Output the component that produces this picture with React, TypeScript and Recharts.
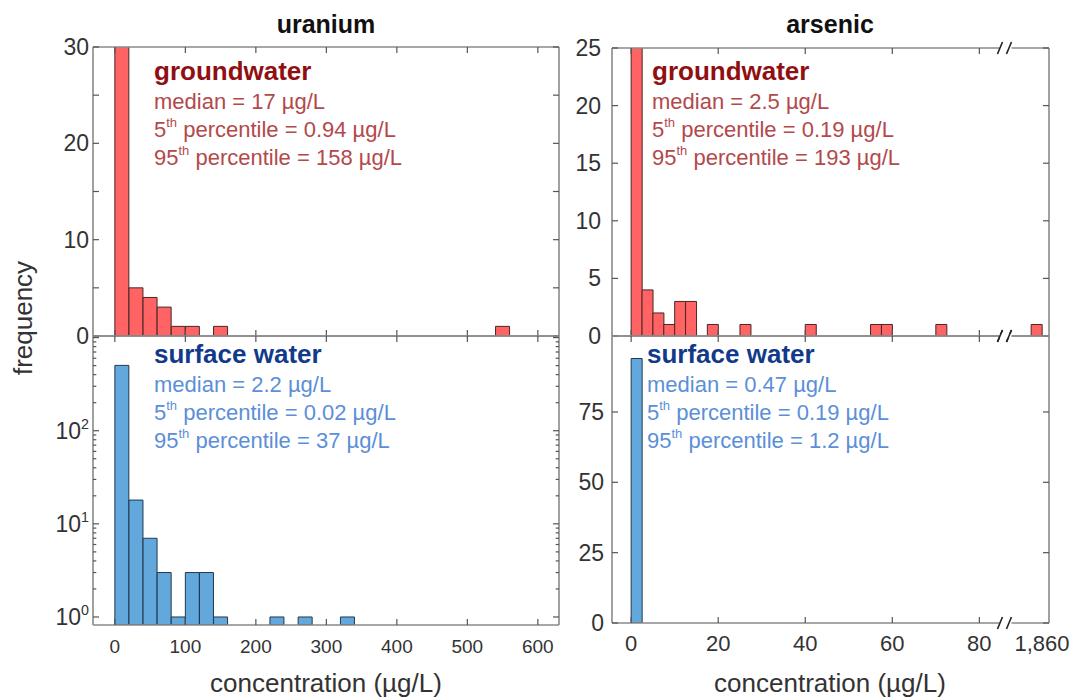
import React from 'react';
import { BarChart, Bar, XAxis, YAxis, ReferenceDot } from 'recharts';

// histogram bins (lower edge, µg/L) and counts
const uraniumBins = [0, 20, 40, 60, 80, 100, 120, 140, 220, 260, 320, 540];
const uraniumGround = [36, 5, 4, 3, 1, 1, 0, 1, 0, 0, 0, 1];
const uraniumSurface = [503, 18, 7, 3, 1, 3, 3, 1, 1, 1, 1, 0];
const uraniumBinWidth = 20;

const arsenicBins = [0, 2.5, 5, 7.5, 10, 12.5, 17.5, 25, 40, 55, 57.5, 70, 1857.5];
const arsenicGround = [30, 4, 2, 1, 3, 3, 1, 1, 1, 1, 1, 1, 1];
const arsenicSurface = [94, 0, 0, 0, 0, 0, 0, 0, 0, 0, 0, 0, 0];
const arsenicBinWidth = 2.5;

// axis ticks
const uraniumXTicks = [0, 100, 200, 300, 400, 500, 600];
const arsenicXTicks = [0, 20, 40, 60, 80, 1860];
const uGroundYTicks = [0, 5, 10, 15, 20, 25, 30];
const uSurfaceYTicks = [
  1, 2, 3, 4, 5, 6, 7, 8, 9,
  10, 20, 30, 40, 50, 60, 70, 80, 90,
  100, 200, 300, 400, 500, 600, 700, 800, 900, 1000,
];
const aGroundYTicks = [0, 5, 10, 15, 20, 25];
const aSurfaceYTicks = [0, 25, 50, 75];

// summary stats: median, 5th, 95th percentile
const uraniumGroundStats = ['17', '0.94', '158'];
const uraniumSurfaceStats = ['2.2', '0.02', '37'];
const arsenicGroundStats = ['2.5', '0.19', '193'];
const arsenicSurfaceStats = ['0.47', '0.19', '1.2'];

// arsenic x axis is broken between 80 and 1,860
const AXIS_BREAK = 86;
const toArsenicAxis = (v: number) => (v > 100 ? v - 1860 + 94.4 : v);
const fromArsenicAxis = (d: number) => (d > AXIS_BREAK ? d + 1860 - 94.4 : d);

const uraniumData = uraniumBins.map((b, i) => ({
  x: b + uraniumBinWidth / 2,
  ground: uraniumGround[i],
  surface: uraniumSurface[i] > 0 ? uraniumSurface[i] : null,
}));

const arsenicData = arsenicBins.map((b, i) => ({
  x: toArsenicAxis(b + arsenicBinWidth / 2),
  ground: arsenicGround[i],
  surface: arsenicSurface[i],
}));

const FONT = "'Liberation Sans', Arial, Helvetica, sans-serif";
const FRAME = '#8a8a8a';
const TICK = '#555';
const LABEL = '#333';
const RED = '#ff6363';
const RED_EDGE = '#4a2626';
const BLUE = '#62a8dc';
const BLUE_EDGE = '#22384f';

const frameLine = { stroke: FRAME, strokeWidth: 1.6 };

function XTick(props: any) {
  const { x, y, payload, dir, len, label, fontSize, mark } = props;
  const v = payload.value;
  const text = label ? label(v) : null;
  const showMark = mark ? mark(v) : true;
  return (
    <g>
      {showMark && <line x1={x} x2={x} y1={y} y2={y + dir * len} stroke={TICK} strokeWidth={1.2} />}
      {text != null && (
        <text x={x} y={y + 28} textAnchor="middle" fontSize={fontSize} fill={LABEL} fontFamily={FONT}>
          {text}
        </text>
      )}
    </g>
  );
}

function YTick(props: any) {
  const { x, y, payload, dir, len, label, fontSize, gap, log } = props;
  const v = payload.value;
  const major = log ? [1, 10, 100, 1000].includes(v) : true;
  const l = log ? (major ? len : len * 0.55) : len;
  let text: React.ReactNode = null;
  if (label) {
    if (log) {
      if ([1, 10, 100].includes(v)) {
        text = (
          <text x={x - gap} y={y} dy="0.35em" textAnchor="end" fontSize={fontSize} fill={LABEL} fontFamily={FONT}>
            10<tspan dy={-10} fontSize={fontSize * 0.62}>{Math.round(Math.log10(v))}</tspan>
          </text>
        );
      }
    } else {
      const s = label(v);
      if (s != null) {
        text = (
          <text x={x - gap} y={y} dy="0.35em" textAnchor="end" fontSize={fontSize} fill={LABEL} fontFamily={FONT}>
            {s}
          </text>
        );
      }
    }
  }
  return (
    <g>
      <line x1={x} x2={x + dir * l} y1={y} y2={y} stroke={TICK} strokeWidth={1.2} />
      {text}
    </g>
  );
}

function BreakMark(props: any) {
  const { cx, cy } = props;
  return (
    <g>
      <rect x={cx - 6} y={cy - 2} width={12} height={4} fill="#fff" />
      <line x1={cx - 8} y1={cy + 6} x2={cx - 3} y2={cy - 6} stroke="#222" strokeWidth={1.6} />
      <line x1={cx + 1} y1={cy + 6} x2={cx + 6} y2={cy - 6} stroke="#222" strokeWidth={1.6} />
    </g>
  );
}

type PanelProps = {
  left: number;
  top: number;
  right: number;
  bottom: number;
  data: any[];
  dataKey: string;
  fill: string;
  edge: string;
  xDomain: [number, number];
  xTicks: number[];
  xLabel?: (v: number) => string | null;
  xMark?: (v: number) => boolean;
  xFont: number;
  yDomain: [number, number];
  yTicks: number[];
  yLabel: (v: number) => string | null;
  yGap: number;
  log?: boolean;
  breaks?: number[];
};

// outer space around the plot area; the axes themselves take 1px each
const OUT = { top: 12, right: 40, bottom: 50, left: 72 };

function Panel(p: PanelProps) {
  const m = { top: OUT.top - 1, right: OUT.right - 1, bottom: OUT.bottom - 1, left: OUT.left - 1 };
  const w = p.right - p.left;
  const h = p.bottom - p.top;
  return (
    <div style={{ position: 'absolute', left: p.left - OUT.left, top: p.top - OUT.top }}>
      <BarChart
        width={w + OUT.left + OUT.right}
        height={h + OUT.top + OUT.bottom}
        data={p.data}
        margin={m}
        barCategoryGap={0}
        barGap={0}
      >
        <XAxis
          xAxisId="b"
          dataKey="x"
          type="number"
          domain={p.xDomain}
          ticks={p.xTicks}
          allowDataOverflow
          interval={0}
          height={1}
          tickSize={0}
          tickMargin={0}
          axisLine={frameLine}
          tickLine={false}
          tick={<XTick dir={-1} len={6} label={p.xLabel} mark={p.xMark} fontSize={p.xFont} />}
        />
        <XAxis
          xAxisId="t"
          orientation="top"
          dataKey="x"
          type="number"
          domain={p.xDomain}
          ticks={p.xTicks}
          allowDataOverflow
          interval={0}
          height={1}
          tickSize={0}
          tickMargin={0}
          axisLine={frameLine}
          tickLine={false}
          tick={<XTick dir={1} len={6} mark={p.xMark} />}
        />
        <YAxis
          yAxisId="l"
          type="number"
          scale={p.log ? 'log' : 'auto'}
          domain={p.yDomain}
          ticks={p.yTicks}
          allowDataOverflow
          interval={0}
          width={1}
          tickSize={0}
          tickMargin={0}
          axisLine={frameLine}
          tickLine={false}
          tick={<YTick dir={1} len={6} label={p.yLabel} fontSize={23} gap={p.yGap} log={p.log} />}
        />
        <YAxis
          yAxisId="r"
          orientation="right"
          type="number"
          scale={p.log ? 'log' : 'auto'}
          domain={p.yDomain}
          ticks={p.yTicks}
          allowDataOverflow
          interval={0}
          width={1}
          tickSize={0}
          tickMargin={0}
          axisLine={frameLine}
          tickLine={false}
          tick={<YTick dir={-1} len={6} log={p.log} />}
        />
        <Bar
          xAxisId="b"
          yAxisId="l"
          dataKey={p.dataKey}
          fill={p.fill}
          stroke={p.edge}
          strokeWidth={1}
          isAnimationActive={false}
        />
        {(p.breaks || []).map((yv, i) => (
          <ReferenceDot
            key={i}
            xAxisId="b"
            yAxisId="l"
            x={AXIS_BREAK}
            y={yv}
            ifOverflow="visible"
            shape={BreakMark}
          />
        ))}
      </BarChart>
    </div>
  );
}

function Stats({ x, y, head, headColor, color, stats }: any) {
  const fs = 22;
  return (
    <g fontFamily={FONT}>
      <text x={x} y={y} fontSize={26} fontWeight="bold" fill={headColor}>{head}</text>
      <text x={x} y={y + 29} fontSize={fs} fill={color}>median = {stats[0]} µg/L</text>
      <text x={x} y={y + 57} fontSize={fs} fill={color}>
        5<tspan dy={-10} fontSize={13}>th</tspan>
        <tspan dy={10} fontSize={fs}> percentile = {stats[1]} µg/L</tspan>
      </text>
      <text x={x} y={y + 85} fontSize={fs} fill={color}>
        95<tspan dy={-10} fontSize={13}>th</tspan>
        <tspan dy={10} fontSize={fs}> percentile = {stats[2]} µg/L</tspan>
      </text>
    </g>
  );
}

export default function App() {
  const tens = (v: number) => (v % 10 === 0 ? String(v) : null);
  const all = (v: number) => String(v);
  const arsenicFmt = (d: number) => Math.round(fromArsenicAxis(d)).toLocaleString('en-US');
  const arsenicTicks = arsenicXTicks.map(toArsenicAxis);
  const beforeBreak = (d: number) => d < AXIS_BREAK;

  return (
    <div
      style={{
        position: 'absolute',
        left: 0,
        top: 0,
        width: 1075,
        height: 697,
        background: '#fff',
        fontFamily: FONT,
        overflow: 'hidden',
      }}
    >
      <Panel
        left={93} top={47} right={559} bottom={336}
        data={uraniumData} dataKey="ground" fill={RED} edge={RED_EDGE}
        xDomain={[-31, 630]} xTicks={uraniumXTicks} xFont={19}
        yDomain={[0, 30]} yTicks={uGroundYTicks} yLabel={tens} yGap={4}
      />
      <Panel
        left={93} top={336} right={559} bottom={625}
        data={uraniumData} dataKey="surface" fill={BLUE} edge={BLUE_EDGE}
        xDomain={[-31, 630]} xTicks={uraniumXTicks} xLabel={all} xFont={19}
        yDomain={[0.82, 1040]} yTicks={uSurfaceYTicks} yLabel={all} yGap={4} log
      />
      <Panel
        left={612} top={48} right={1049} bottom={336}
        data={arsenicData} dataKey="ground" fill={RED} edge={RED_EDGE}
        xDomain={[-4.4, 96]} xTicks={arsenicTicks} xMark={beforeBreak} xFont={22}
        yDomain={[0, 25]} yTicks={aGroundYTicks} yLabel={all} yGap={11}
        breaks={[0, 25]}
      />
      <Panel
        left={612} top={336} right={1049} bottom={623}
        data={arsenicData} dataKey="surface" fill={BLUE} edge={BLUE_EDGE}
        xDomain={[-4.4, 96]} xTicks={arsenicTicks} xLabel={arsenicFmt} xMark={beforeBreak} xFont={22}
        yDomain={[0, 102]} yTicks={aSurfaceYTicks} yLabel={all} yGap={8}
        breaks={[0, 102]}
      />
      <svg
        width={1075}
        height={697}
        style={{ position: 'absolute', left: 0, top: 0, pointerEvents: 'none' }}
      >
        <g fontFamily={FONT} fill="#111">
          <text x={326} y={33} fontSize={25} fontWeight="bold" textAnchor="middle">uranium</text>
          <text x={830} y={33} fontSize={25} fontWeight="bold" textAnchor="middle">arsenic</text>
          <text x={326} y={692} fontSize={26} textAnchor="middle" fill={LABEL}>concentration (µg/L)</text>
          <text x={830} y={692} fontSize={26} textAnchor="middle" fill={LABEL}>concentration (µg/L)</text>
          <text transform="translate(32,318) rotate(-90)" fontSize={26} textAnchor="middle" fill={LABEL}>frequency</text>
        </g>
        <Stats x={154} y={80} head="groundwater" headColor="#900f12" color="#b3494b" stats={uraniumGroundStats} />
        <Stats x={154} y={363} head="surface water" headColor="#123a8a" color="#5b8fd8" stats={uraniumSurfaceStats} />
        <Stats x={652} y={80} head="groundwater" headColor="#900f12" color="#b3494b" stats={arsenicGroundStats} />
        <Stats x={647} y={363} head="surface water" headColor="#123a8a" color="#5b8fd8" stats={arsenicSurfaceStats} />
      </svg>
    </div>
  );
}
